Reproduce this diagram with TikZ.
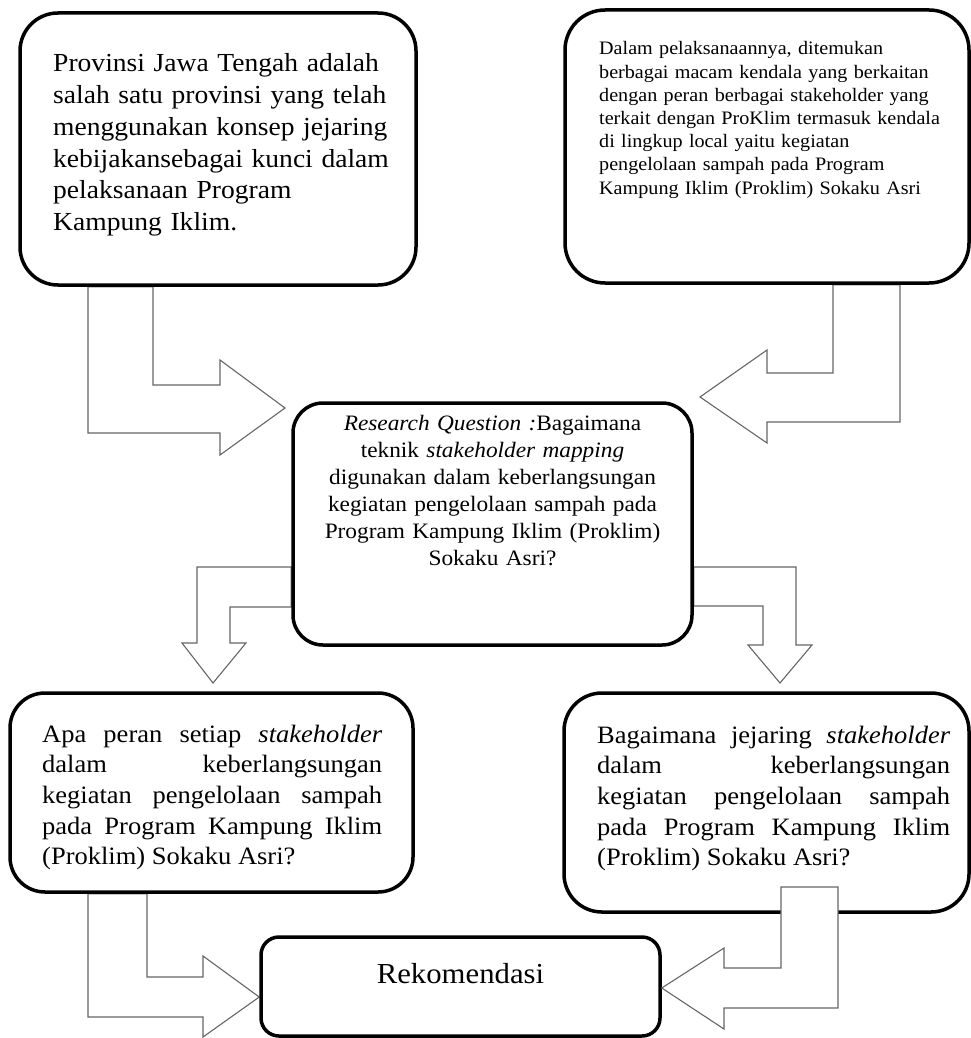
\documentclass[tikz,border=0pt]{standalone}
\usepackage{fontspec}
\setmainfont{Liberation Serif}[FakeStretch=1.06]
\usetikzlibrary{backgrounds}
\begin{document}
\begin{tikzpicture}[x = 1pt, y = -1pt,
        box/.style = {draw = black, line width = 3.5pt},
        txt/.style = {inner sep = 0pt, anchor = base west},
        blk/.style = {draw = black!60, line width = 1.1pt, fill = white}]
    \useasboundingbox (0,0) rectangle (971,1038);
    % kotak
    \node [box, rounded corners = 38pt, minimum width = 396, minimum height = 272] (tl) at (218,149) {};
    \node [box, rounded corners = 40pt, minimum width = 404, minimum height = 273] (tr) at (767,146.5) {};
    \node [box, rounded corners = 30pt, minimum width = 399, minimum height = 242] (cq) at (492.5,524) {};
    \node [box, rounded corners = 35pt, minimum width = 403, minimum height = 199] (bl) at (211.5,792.5) {};
    \node [box, rounded corners = 38pt, minimum width = 405, minimum height = 219] (br) at (766.5,802.5) {};
    \node [box, rounded corners = 18pt, minimum width = 399, minimum height = 99] (rk) at (460.5,986.5) {};
    % teks
    \node [txt, text width = 360, align = left, font = \fontsize{26}{31.7}\selectfont] (tltext) at (53,72)
        {Provinsi Jawa Tengah adalah\\ salah satu provinsi yang telah\\ menggunakan konsep jejaring\\
         kebijakansebagai kunci dalam\\ pelaksanaan Program\\ Kampung Iklim.};
    \node [txt, text width = 360, align = left, font = \fontsize{19}{23.2}\selectfont] (trtext) at (599,55)
        {Dalam pelaksanaannya, ditemukan\\ berbagai macam kendala yang berkaitan\\ dengan peran berbagai stakeholder yang\\
         terkait dengan ProKlim termasuk kendala\\ di lingkup local yaitu kegiatan\\
         pengelolaan sampah pada Program\\ Kampung Iklim (Proklim) Sokaku Asri};
    \node [txt, anchor = base, text width = 390, align = center, font = \fontsize{22}{27}\selectfont] (cqtext) at (492.5,430)
        {\textit{Research Question :}Bagaimana\\ teknik \textit{stakeholder mapping}\\ digunakan dalam keberlangsungan\\
         kegiatan pengelolaan sampah pada\\ Program Kampung Iklim (Proklim)\\ Sokaku Asri?};
    \node [txt, text width = 340, align = justify, font = \fontsize{25}{30.7}\selectfont] (bltext) at (42,742)
        {Apa peran setiap \textit{stakeholder}\linebreak dalam keberlangsungan\linebreak
         kegiatan pengelolaan sampah\linebreak pada Program Kampung Iklim\linebreak (Proklim) Sokaku Asri?};
    \node [txt, text width = 353, align = justify, font = \fontsize{25}{30.7}\selectfont] (brtext) at (597,743)
        {Bagaimana jejaring \textit{stakeholder}\linebreak dalam keberlangsungan\linebreak
         kegiatan pengelolaan sampah\linebreak pada Program Kampung Iklim\linebreak (Proklim) Sokaku Asri?};
    \node [txt, anchor = base, font = \fontsize{29}{34}\selectfont] (rktext) at (460.5,983) {Rekomendasi};
    % panah
    \begin{pgfonlayer}{background}
        \draw [blk] (tl.south -| 88,0) -- (88,433) -- (220,433) -- (220,455) -- (285,408)
            -- (220,360) -- (220,385) -- (153,385) -- (tl.south -| 153,0) -- cycle;
        \draw [blk] (tr.south -| 900,0) -- (900,422) -- (767,422) -- (767,443) -- (700,397)
            -- (767,350) -- (767,373) -- (833,373) -- (tr.south -| 833,0) -- cycle;
        \draw [blk] (cq.west |- 0,567) -- (197,567) -- (197,643) -- (182,643) -- (213,683)
            -- (246,643) -- (230,643) -- (230,607) -- (cq.west |- 0,607) -- cycle;
        \draw [blk] (cq.east |- 0,567) -- (796,567) -- (796,645) -- (812,645) -- (780,683)
            -- (748,645) -- (763,645) -- (763,606) -- (cq.east |- 0,606) -- cycle;
        \draw [blk] (bl.south -| 88,0) -- (88,1017) -- (203,1017) -- (203,1037) -- (rk.west |- 0,997)
            -- (203,956) -- (203,977) -- (147,977) -- (bl.south -| 147,0) -- cycle;
    \end{pgfonlayer}
    \draw [blk] (781,887) -- (781,968) -- (724,968) -- (724,948) -- (rk.east |- 0,988)
        -- (724,1029) -- (724,1008) -- (838,1008) -- (838,887) -- cycle;
\end{tikzpicture}
\end{document}
